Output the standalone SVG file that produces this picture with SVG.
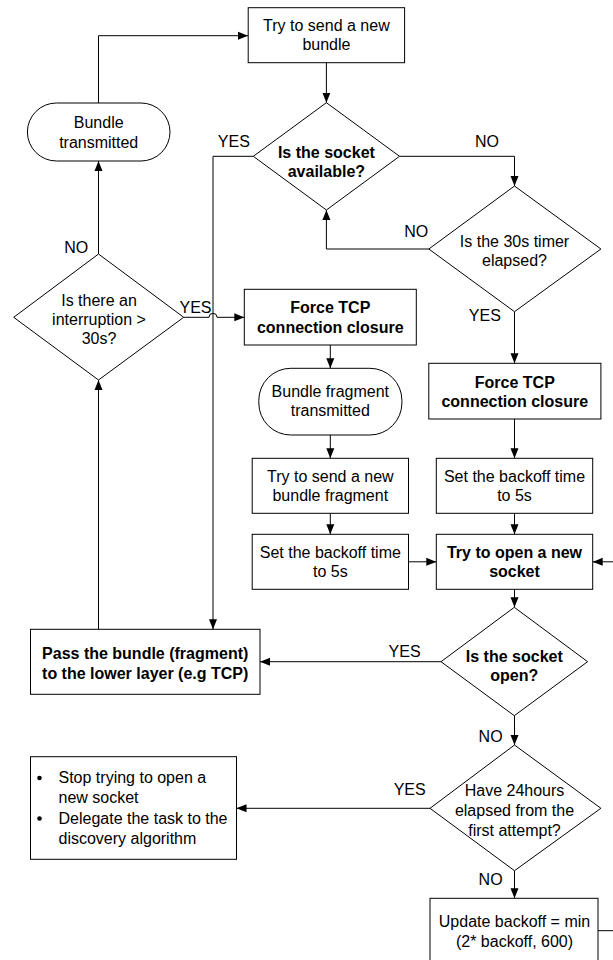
<svg xmlns="http://www.w3.org/2000/svg" width="613" height="960" viewBox="0 0 613 960">
<style>
.n{fill:#fff;stroke:#000;stroke-width:1}
.t{font-family:"Liberation Sans",Arial,sans-serif;font-size:16px;fill:#000;text-anchor:middle}
.b{font-weight:bold}
.l{font-family:"Liberation Sans",Arial,sans-serif;font-size:16px;fill:#000;text-anchor:middle}
.c{fill:none;stroke:#000;stroke-width:1}
</style>
<defs>
<marker id="ah" viewBox="0 0 10 10" refX="10" refY="5" markerWidth="10" markerHeight="10" markerUnits="userSpaceOnUse" orient="auto">
<path d="M0,1 L10,5 L0,9 Z" fill="#000"/>
</marker>
</defs>
<rect width="613" height="960" fill="#fff"/>
<g id="connectors">
<path class="c" d="M326.4,62.7 V102.7" marker-end="url(#ah)"/>
<path class="c" d="M98.5,103 V35.7 H248" marker-end="url(#ah)"/>
<path class="c" d="M253.3,156.3 H213 V629.3" marker-end="url(#ah)"/>
<path class="c" d="M399.5,156.3 H514.5 V186" marker-end="url(#ah)"/>
<path class="c" d="M428.8,249 H326.4 V210" marker-end="url(#ah)"/>
<path class="c" d="M514.5,311.7 V363.3" marker-end="url(#ah)"/>
<path class="c" d="M98.5,254 V161" marker-end="url(#ah)"/>
<path class="c" d="M183.7,317.3 H209 A4,4 0 0 1 217,317.3 H244.3" marker-end="url(#ah)"/>
<path class="c" d="M330.3,345 V368.3" marker-end="url(#ah)"/>
<path class="c" d="M330.3,435 V458.3" marker-end="url(#ah)"/>
<path class="c" d="M330.3,513.3 V534.3" marker-end="url(#ah)"/>
<path class="c" d="M514.5,419 V458.3" marker-end="url(#ah)"/>
<path class="c" d="M514.5,513.3 V534.3" marker-end="url(#ah)"/>
<path class="c" d="M408.5,561.8 H436.3" marker-end="url(#ah)"/>
<path class="c" d="M514.5,589.3 V607.3" marker-end="url(#ah)"/>
<path class="c" d="M441,661.7 H260" marker-end="url(#ah)"/>
<path class="c" d="M98.5,629.3 V380" marker-end="url(#ah)"/>
<path class="c" d="M514.5,715.7 V745" marker-end="url(#ah)"/>
<path class="c" d="M430,808.3 H236.5" marker-end="url(#ah)"/>
<path class="c" d="M514.5,870.7 V898.3" marker-end="url(#ah)"/>
<path class="c" d="M598,930.7 H620 V561.8 H592.7" marker-end="url(#ah)"/>
<text class="l" x="233.8" y="146.7">YES</text>
<text class="l" x="487" y="146.7">NO</text>
<text class="l" x="416.3" y="237.3">NO</text>
<text class="l" x="484.8" y="320.7">YES</text>
<text class="l" x="76.2" y="252.7">NO</text>
<text class="l" x="195.5" y="313.3">YES</text>
<text class="l" x="404.6" y="657.3">YES</text>
<text class="l" x="490.6" y="741.7">NO</text>
<text class="l" x="409.7" y="795">YES</text>
<text class="l" x="490.6" y="885">NO</text>
</g>
<g id="try-send-bundle">
<rect class="n" x="248.2" y="7.7" width="156.4" height="55"/>
<text class="t" x="326.4" y="31">Try to send a new</text>
<text class="t" x="326.4" y="50">bundle</text>
</g>
<g id="bundle-transmitted">
<rect class="n" x="27.4" y="103" width="142.6" height="58" rx="29" ry="29"/>
<text class="t" x="98.7" y="127.7">Bundle</text>
<text class="t" x="98.7" y="147.7">transmitted</text>
</g>
<g id="socket-available">
<polygon class="n" points="326.4,102.7 399.5,156.3 326.4,210 253.3,156.3"/>
<text class="t b" x="326.4" y="158">Is the socket</text>
<text class="t b" x="326.4" y="177">available?</text>
</g>
<g id="timer-elapsed">
<polygon class="n" points="514.5,186 600.9,249 514.5,311.7 428.8,249"/>
<text class="t" x="514.5" y="246.7">Is the 30s timer</text>
<text class="t" x="514.5" y="265.7">elapsed?</text>
</g>
<g id="interruption">
<polygon class="n" points="98.5,254 183.7,317.3 98.5,380 13.7,317.3"/>
<text class="t" x="99" y="306">Is there an</text>
<text class="t" x="99" y="325">interruption &gt;</text>
<text class="t" x="99" y="344">30s?</text>
</g>
<g id="force-tcp-left">
<rect class="n" x="244.3" y="289.3" width="172" height="55.7"/>
<text class="t b" x="330.3" y="313.3">Force TCP</text>
<text class="t b" x="330.3" y="332.7">connection closure</text>
</g>
<g id="bundle-fragment-transmitted">
<rect class="n" x="258.8" y="368.3" width="143.1" height="66.7" rx="32" ry="32"/>
<text class="t" x="330.3" y="396.7">Bundle fragment</text>
<text class="t" x="330.3" y="416">transmitted</text>
</g>
<g id="try-send-fragment">
<rect class="n" x="252.2" y="458.3" width="156.3" height="55"/>
<text class="t" x="330.3" y="481.5">Try to send a new</text>
<text class="t" x="330.3" y="500.5">bundle fragment</text>
</g>
<g id="set-backoff-left">
<rect class="n" x="252.2" y="534.3" width="156.3" height="55"/>
<text class="t" x="330.3" y="557.5">Set the backoff time</text>
<text class="t" x="330.3" y="576.5">to 5s</text>
</g>
<g id="force-tcp-right">
<rect class="n" x="428.8" y="363.3" width="172.1" height="55.7"/>
<text class="t b" x="514.8" y="387.5">Force TCP</text>
<text class="t b" x="514.8" y="406.5">connection closure</text>
</g>
<g id="set-backoff-right">
<rect class="n" x="436.3" y="458.3" width="156.4" height="55"/>
<text class="t" x="514.5" y="481.5">Set the backoff time</text>
<text class="t" x="514.5" y="500.5">to 5s</text>
</g>
<g id="try-open-socket">
<rect class="n" x="436.3" y="534.3" width="156.4" height="55"/>
<text class="t b" x="514.5" y="557.5">Try to open a new</text>
<text class="t b" x="514.5" y="576.5">socket</text>
</g>
<g id="socket-open">
<polygon class="n" points="514.3,607.3 587.6,661.7 514.3,715.7 441,661.7"/>
<text class="t b" x="514.3" y="662">Is the socket</text>
<text class="t b" x="514.3" y="681">open?</text>
</g>
<g id="pass-bundle">
<rect class="n" x="30.5" y="629.3" width="229.5" height="65"/>
<text class="t b" x="145.2" y="659">Pass the bundle (fragment)</text>
<text class="t b" x="145.2" y="679">to the lower layer (e.g TCP)</text>
</g>
<g id="have-24hours">
<polygon class="n" points="514.5,745 600.9,808.3 514.5,870.7 430,808.3"/>
<text class="t" x="514.5" y="796">Have 24hours</text>
<text class="t" x="514.5" y="816">elapsed from the</text>
<text class="t" x="514.5" y="836">first attempt?</text>
</g>
<g id="stop-trying">
<rect class="n" x="30.5" y="756.7" width="206" height="102.6"/>
<circle cx="39.5" cy="778" r="2.3" fill="#000"/>
<circle cx="39.5" cy="818.5" r="2.3" fill="#000"/>
<text class="t" x="58.5" y="783" style="text-anchor:start">Stop trying to open a</text>
<text class="t" x="58.5" y="803" style="text-anchor:start">new socket</text>
<text class="t" x="58.5" y="823.5" style="text-anchor:start">Delegate the task to the</text>
<text class="t" x="58.5" y="843.5" style="text-anchor:start">discovery algorithm</text>
</g>
<g id="update-backoff">
<rect class="n" x="430" y="898.3" width="168" height="63"/>
<text class="t" x="514.5" y="926.7">Update backoff = min</text>
<text class="t" x="514.5" y="946.7">(2* backoff, 600)</text>
</g>
</svg>
